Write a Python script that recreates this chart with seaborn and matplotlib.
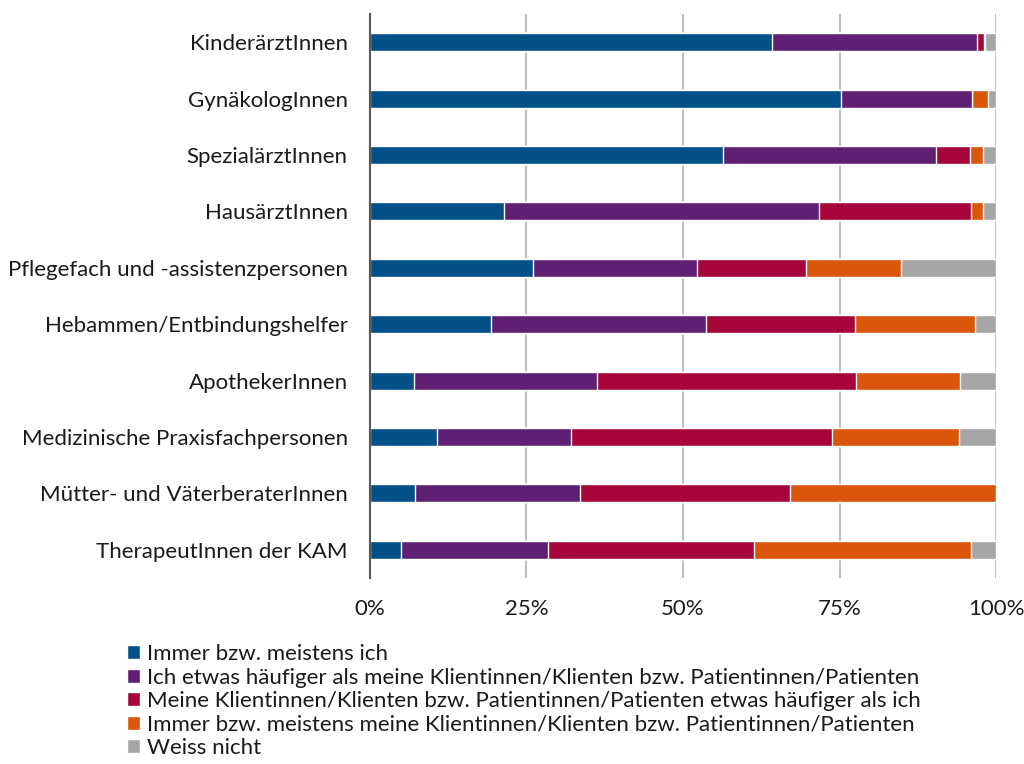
import numpy as np
import pandas as pd
import matplotlib
matplotlib.use('Agg')
import matplotlib.pyplot as plt
import seaborn as sns

# Berufsgruppen (von oben nach unten)
gruppen = ['KinderärztInnen', 'GynäkologInnen', 'SpezialärztInnen', 'HausärztInnen',
           'Pflegefach und -assistenzpersonen', 'Hebammen/Entbindungshelfer',
           'ApothekerInnen', 'Medizinische Praxisfachpersonen',
           'Mütter- und VäterberaterInnen', 'TherapeutInnen der KAM']

antworten = ['Immer bzw. meistens ich',
             'Ich etwas häufiger als meine Klientinnen/Klienten bzw. Patientinnen/Patienten',
             'Meine Klientinnen/Klienten bzw. Patientinnen/Patienten etwas häufiger als ich',
             'Immer bzw. meistens meine Klientinnen/Klienten bzw. Patientinnen/Patienten',
             'Weiss nicht']

immer_ich = [64.2, 75.3, 56.4, 21.4, 26.0, 19.3, 7.1, 10.7, 7.2, 5.0]
eher_ich = [32.8, 20.9, 34.0, 50.4, 26.2, 34.3, 29.1, 21.4, 26.3, 23.4]
eher_klient = [1.0, 0.0, 5.4, 24.2, 17.5, 23.9, 41.4, 41.7, 33.6, 32.9]
immer_klient = [0.3, 2.5, 2.1, 1.9, 15.1, 19.1, 16.7, 20.3, 32.9, 34.7]
weiss_nicht = [1.7, 1.3, 2.1, 2.1, 15.2, 3.4, 5.7, 5.9, 0.0, 4.0]

farben = ['#034F87', '#5F2073', '#A60639', '#D9560B', '#A6A6A6']

df = pd.DataFrame({'Gruppe': gruppen})
serien = [immer_ich, eher_ich, eher_klient, immer_klient, weiss_nicht]
for name, werte in zip(antworten, serien):
    df[name] = werte
kum = df[antworten].cumsum(axis=1)

sns.set_style('white')
plt.rcParams['font.family'] = ['Lato', 'DejaVu Sans']

fig, ax = plt.subplots(figsize=(10.24, 7.64), dpi=100)
fig.subplots_adjust(left=0.3613, right=0.9727, top=0.9817, bottom=0.2435)

# gestapelt: laengste kumulierte Balken zuerst zeichnen
for name, farbe in reversed(list(zip(antworten, farben))):
    sns.barplot(x=kum[name], y=df['Gruppe'], orient='h', color=farbe, width=0.32,
                saturation=1, edgecolor='white', linewidth=1, label=name, ax=ax, zorder=2)

handles, labels = ax.get_legend_handles_labels()
if ax.get_legend() is not None:
    ax.get_legend().remove()

ax.set_xlim(0, 100)
ax.set_ylim(9.5, -0.5)
ax.set_xticks([0, 25, 50, 75, 100])
ax.set_xticklabels(['0%', '25%', '50%', '75%', '100%'])
ax.xaxis.grid(True, color='#BFBFBF', linewidth=1.5, zorder=0)
ax.set_axisbelow(True)
ax.set_xlabel('')
ax.set_ylabel('')
for s in ['top', 'right', 'bottom']:
    ax.spines[s].set_visible(False)
ax.spines['left'].set_color('#595959')
ax.spines['left'].set_linewidth(1.5)
ax.tick_params(axis='x', length=0, pad=15, labelsize=16, colors='#1a1a1a')
ax.tick_params(axis='y', length=0, pad=16, labelsize=16, colors='#1a1a1a')

handles, labels = handles[::-1], labels[::-1]
fig.legend(handles, labels, loc='upper left', bbox_to_anchor=(0.124, 0.157),
           frameon=False, fontsize=16, handlelength=0.6, handleheight=0.6,
           handletextpad=0.3, labelspacing=0.16, borderaxespad=0, borderpad=0,
           labelcolor='#1a1a1a')

fig.savefig('out.png', dpi=100)
